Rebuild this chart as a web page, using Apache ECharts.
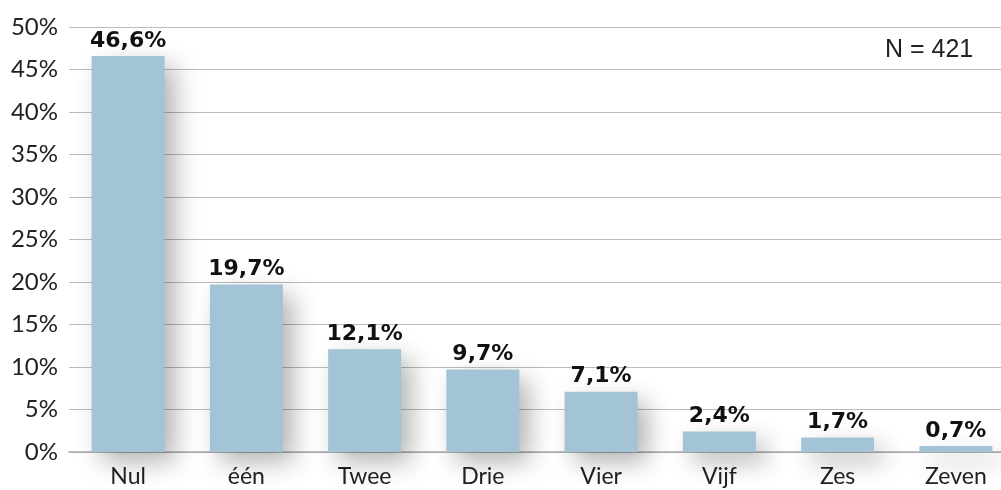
<!DOCTYPE html>
<html><head><meta charset="utf-8">
<script src="https://cdn.jsdelivr.net/npm/echarts@6/dist/echarts.min.js"></script>
<style>html,body{margin:0;padding:0;background:#fff;overflow:hidden}#c{width:1015px;height:490px}</style>
</head><body><div id="c"></div>
<script>
const categories = ['Nul','één','Twee','Drie','Vier','Vijf','Zes','Zeven'];
const values = [46.6, 19.7, 12.1, 9.7, 7.1, 2.4, 1.7, 0.7];
const yTicks = [0, 5, 10, 15, 20, 25, 30, 35, 40, 45, 50];
const noteText = 'N = 421';

const chart = echarts.init(document.getElementById('c'));
chart.setOption({
  animation: false,
  grid: { left: 69, top: 27, right: 0, bottom: 38, containLabel: false },
  xAxis: {
    type: 'category', data: categories,
    axisLine: { show: true, lineStyle: { color: '#aaa', width: 1.5 } },
    axisTick: { show: false },
    axisLabel: { color: '#222', fontSize: 23, fontFamily: 'Lato', margin: 13 }
  },
  yAxis: {
    type: 'value', min: yTicks[0], max: yTicks[yTicks.length-1], interval: 5,
    axisLine: { show: false }, axisTick: { show: false },
    splitLine: { lineStyle: { color: '#bbb', width: 1.2 } },
    axisLabel: { color: '#222', fontSize: 24, fontFamily: 'Lato', margin: 11, formatter: v => v + '%' }
  },
  graphic: [{
    type: 'text', left: 885, top: 38,
    style: { text: noteText, fill: '#222', fontSize: 25, fontFamily: 'Liberation Sans' }
  }],
  series: [{
    type: 'bar', data: values, barWidth: 73,
    itemStyle: { color: '#a3c3d6', shadowColor: 'rgba(0,0,0,0.3)', shadowBlur: 24, shadowOffsetX: 10, shadowOffsetY: 10 },
    label: {
      show: true, position: 'top', distance: 4, color: '#111', fontSize: 22, fontWeight: 'bold', fontFamily: 'DejaVu Sans',
      formatter: p => p.value.toFixed(1).replace('.', ',') + '%'
    }
  }]
});
</script></body></html>
